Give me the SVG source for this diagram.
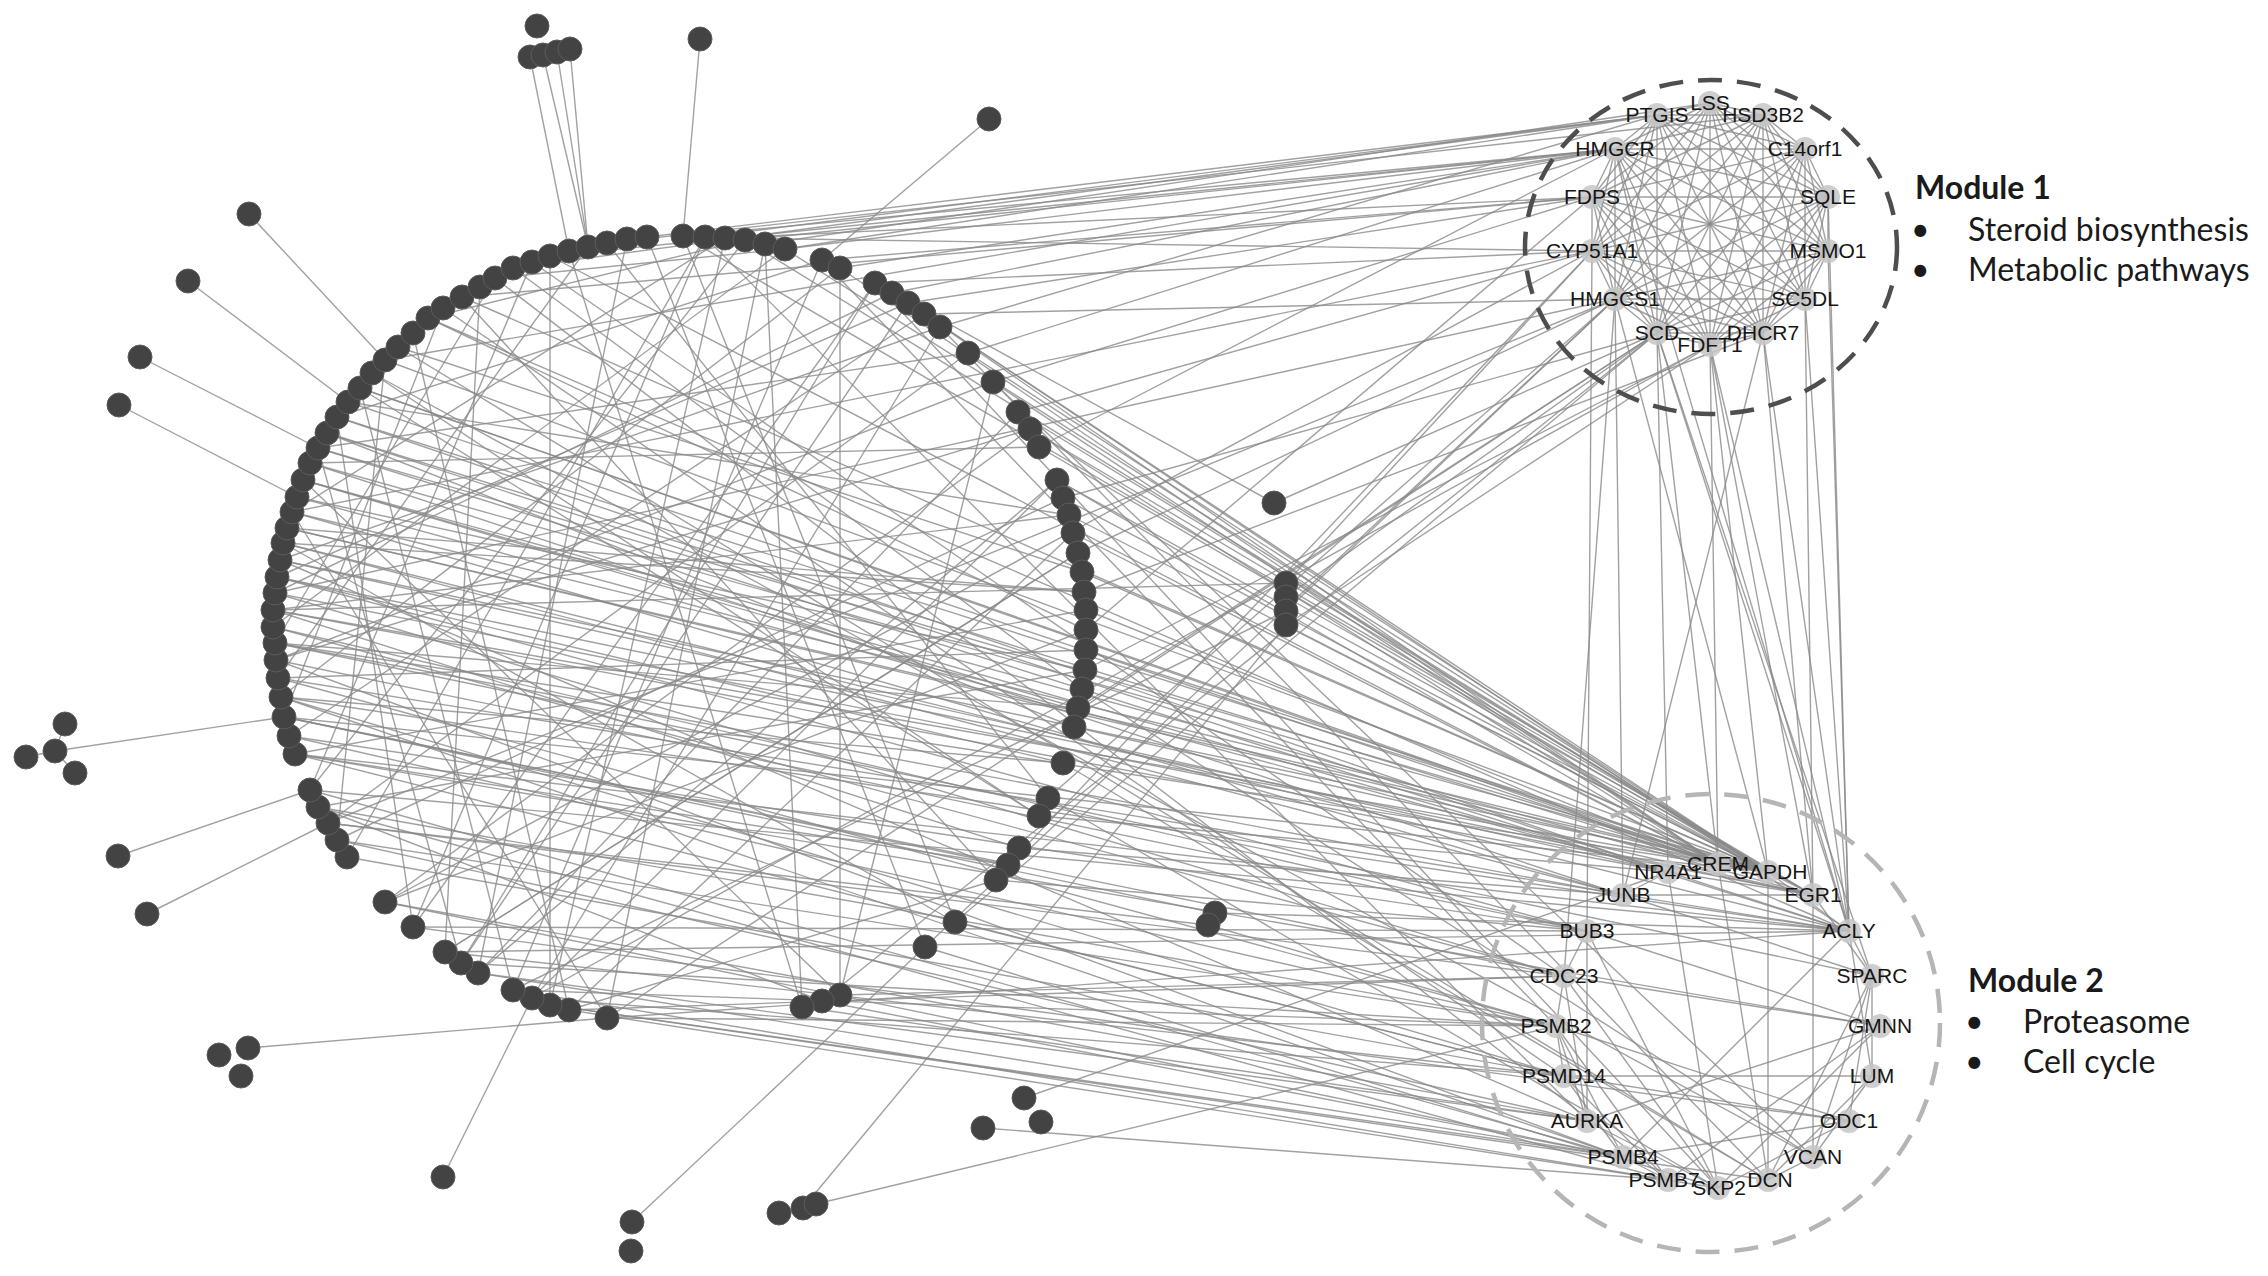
<svg xmlns="http://www.w3.org/2000/svg" width="2268" height="1276" viewBox="0 0 2268 1276">
<style>
.e path{fill:none;stroke:#8a8a8a;stroke-width:1.4;stroke-opacity:.8}
.d{fill:#434343;stroke:#5c5c5c;stroke-width:1}
.m{fill:#c6c6c6;fill-opacity:.85}
.t{font-family:"Liberation Sans",Arial,sans-serif;font-size:21px;fill:#161616;text-anchor:middle}
.h{font-family:Lato,"Liberation Sans",sans-serif;font-size:32px;fill:#1a1a1a}
.hb{font-weight:bold}
.r1{fill:none;stroke:#4e4e4e;stroke-width:4.5;stroke-dasharray:24 15}
.r2{fill:none;stroke:#b5b5b5;stroke-width:4.5;stroke-dasharray:24 15}
</style>
<rect width="2268" height="1276" fill="#fff"/>
<g id="edges" class="e">
<path d="M647 237L1657 115"/><path d="M683 236L1615 149"/><path d="M705 237L1657 115"/><path d="M725 238L1592 197"/><path d="M745 240L1615 149"/><path d="M765 244L1710 103"/><path d="M785 249L1657 115"/><path d="M785 249L1615 149"/><path d="M822 260L1592 197"/><path d="M840 268L1615 149"/><path d="M875 283L1592 251"/><path d="M892 293L1615 149"/><path d="M908 303L1592 197"/><path d="M924 314L1615 299"/><path d="M940 327L1657 115"/><path d="M968 353L1615 149"/><path d="M993 382L1592 197"/><path d="M1018 412L1592 251"/><path d="M1039 447L1615 149"/><path d="M1063 498L1657 333"/><path d="M1078 553L1615 299"/><path d="M1086 630L1592 197"/><path d="M1078 708L1657 333"/><path d="M1048 798L1615 299"/><path d="M1008 865L1592 251"/><path d="M955 922L1657 333"/><path d="M925 947L1615 299"/><path d="M550 256L1615 149"/><path d="M513 268L1657 115"/><path d="M462 297L1592 197"/><path d="M385 360L1615 149"/><path d="M292 512L1592 251"/><path d="M275 593L1615 299"/><path d="M607 1018L1657 333"/><path d="M532 998L1710 345"/><path d="M822 1001L1657 333"/><path d="M385 902L1592 251"/><path d="M328 823L1615 299"/><path d="M725 238L1592 251"/><path d="M607 243L1763 115"/><path d="M1084 592L1763 333"/><path d="M1085 670L1710 345"/>
<path d="M785 249L1768 872"/><path d="M840 268L1718 864"/><path d="M892 293L1768 872"/><path d="M924 314L1718 864"/><path d="M968 353L1768 872"/><path d="M1018 412L1768 872"/><path d="M1030 429L1718 864"/><path d="M1057 480L1768 872"/><path d="M1069 515L1813 895"/><path d="M1073 533L1718 864"/><path d="M1082 572L1768 872"/><path d="M385 360L1768 872"/><path d="M348 402L1718 864"/><path d="M318 448L1768 872"/><path d="M303 480L1813 895"/><path d="M287 528L1718 864"/><path d="M462 297L1768 872"/><path d="M550 256L1718 864"/><path d="M683 236L1813 895"/><path d="M745 240L1768 872"/><path d="M428 318L1849 931"/><path d="M337 417L1668 872"/><path d="M310 463L1623 895"/><path d="M297 497L1668 872"/><path d="M283 543L1623 895"/><path d="M280 560L1768 872"/><path d="M277 577L1587 931"/><path d="M273 610L1668 872"/><path d="M273 627L1564 976"/><path d="M275 643L1623 895"/><path d="M276 660L1587 931"/><path d="M278 678L1556 1026"/><path d="M281 697L1849 931"/><path d="M284 717L1564 976"/><path d="M289 736L1587 931"/><path d="M295 754L1564 1076"/><path d="M310 790L1849 931"/><path d="M318 807L1556 1026"/><path d="M328 823L1564 976"/><path d="M337 840L1587 1121"/><path d="M347 857L1564 1076"/><path d="M385 902L1623 1157"/><path d="M413 927L1587 931"/><path d="M445 952L1849 931"/><path d="M461 963L1556 1026"/><path d="M478 973L1587 1121"/><path d="M513 990L1668 1180"/><path d="M532 998L1564 1076"/><path d="M550 1005L1623 1157"/><path d="M569 1010L1564 976"/><path d="M607 1018L1556 1026"/><path d="M607 1018L1849 931"/><path d="M802 1007L1587 1121"/><path d="M822 1001L1623 1157"/><path d="M840 995L1564 976"/><path d="M925 947L1718 1188"/><path d="M955 922L1564 1076"/><path d="M996 880L1587 931"/><path d="M1019 848L1623 895"/><path d="M1039 816L1668 872"/><path d="M1063 763L1768 1180"/><path d="M1074 727L1813 895"/><path d="M1082 689L1813 1157"/><path d="M1086 650L1768 872"/><path d="M1086 610L1718 864"/><path d="M360 388L1813 895"/><path d="M327 433L1849 931"/><path d="M292 512L1768 872"/><path d="M275 593L1813 895"/><path d="M398 347L1768 1180"/><path d="M372 373L1813 1157"/><path d="M875 283L1718 1188"/><path d="M940 327L1768 1180"/><path d="M993 382L1813 1157"/><path d="M495 278L1668 1180"/><path d="M275 643L1872 976"/><path d="M295 754L1880 1026"/><path d="M413 927L1849 1121"/><path d="M281 697L1623 1157"/><path d="M280 560L1587 1121"/><path d="M1048 798L1718 1188"/><path d="M443 308L1564 1076"/><path d="M532 262L1564 976"/><path d="M705 237L1587 1121"/><path d="M822 260L1556 1026"/><path d="M908 303L1849 931"/>
<path d="M292 512L1623 895"/><path d="M287 528L1768 872"/><path d="M283 543L1849 931"/><path d="M280 560L1668 872"/><path d="M277 577L1813 895"/><path d="M275 593L1564 976"/><path d="M273 610L1768 872"/><path d="M273 627L1587 931"/><path d="M275 643L1768 872"/><path d="M276 660L1623 1157"/><path d="M278 678L1849 931"/><path d="M281 697L1564 1076"/><path d="M284 717L1768 872"/><path d="M289 736L1556 1026"/><path d="M295 754L1849 931"/><path d="M303 480L1668 872"/><path d="M310 463L1768 872"/><path d="M318 448L1849 931"/><path d="M327 433L1718 864"/><path d="M337 417L1768 872"/><path d="M360 388L1718 864"/><path d="M310 790L1623 1157"/><path d="M318 807L1668 1180"/><path d="M337 840L1556 1026"/><path d="M385 902L1587 1121"/><path d="M445 952L1564 1076"/><path d="M478 973L1623 1157"/><path d="M513 990L1556 1026"/><path d="M550 1005L1768 1180"/><path d="M569 1010L1718 1188"/><path d="M1057 480L1718 864"/><path d="M1063 498L1768 872"/><path d="M1039 447L1768 872"/><path d="M993 382L1718 864"/><path d="M1030 429L1813 895"/>
<path d="M647 237L925 947"/><path d="M627 239L478 973"/><path d="M607 243L1048 798"/><path d="M588 247L278 678"/><path d="M569 251L802 1007"/><path d="M550 256L550 1005"/><path d="M532 262L310 790"/><path d="M513 268L1082 689"/><path d="M495 278L275 643"/><path d="M480 287L445 952"/><path d="M462 297L996 880"/><path d="M443 308L284 717"/><path d="M428 318L1086 630"/><path d="M413 333L569 1010"/><path d="M398 347L1082 572"/><path d="M385 360L337 840"/><path d="M372 373L1039 816"/><path d="M360 388L513 990"/><path d="M348 402L1069 515"/><path d="M337 417L413 927"/><path d="M327 433L1074 727"/><path d="M318 448L461 963"/><path d="M310 463L1039 447"/><path d="M303 480L840 995"/><path d="M297 497L1085 670"/><path d="M292 512L607 1018"/><path d="M287 528L1084 592"/><path d="M283 543L955 922"/><path d="M280 560L940 327"/><path d="M277 577L1063 763"/><path d="M275 593L892 293"/><path d="M273 610L1019 848"/><path d="M273 627L785 249"/><path d="M275 643L1078 708"/><path d="M276 660L993 382"/><path d="M278 678L1086 650"/><path d="M281 697L840 268"/><path d="M284 717L1008 865"/><path d="M289 736L924 314"/><path d="M295 754L1086 610"/><path d="M310 790L745 240"/><path d="M318 807L822 1001"/><path d="M328 823L968 353"/><path d="M337 840L1063 498"/><path d="M347 857L705 237"/><path d="M385 902L1030 429"/><path d="M413 927L875 283"/><path d="M445 952L1078 553"/><path d="M461 963L908 303"/><path d="M478 973L1018 412"/><path d="M513 990L822 260"/><path d="M532 998L1057 480"/><path d="M550 1005L725 238"/><path d="M569 1010L1073 533"/><path d="M607 1018L765 244"/><path d="M683 236L955 922"/><path d="M705 237L413 927"/><path d="M725 238L292 512"/><path d="M765 244L802 1007"/><path d="M822 260L337 417"/><path d="M875 283L461 963"/><path d="M908 303L277 577"/><path d="M940 327L532 998"/><path d="M968 353L318 448"/><path d="M993 382L840 995"/><path d="M1030 429L276 660"/><path d="M1057 480L478 973"/><path d="M1069 515L273 610"/><path d="M1078 553L445 952"/><path d="M1084 592L283 543"/><path d="M1086 630L385 902"/><path d="M1085 670L318 807"/><path d="M1078 708L303 480"/><path d="M1063 763L281 697"/><path d="M1039 816L360 388"/><path d="M1008 865L295 754"/><path d="M996 880L569 1010"/><path d="M745 240L428 318"/><path d="M785 249L495 278"/><path d="M840 268L840 995"/>
<path d="M1710 103L1763 115"/><path d="M1710 103L1805 149"/><path d="M1710 103L1828 197"/><path d="M1710 103L1828 251"/><path d="M1710 103L1805 299"/><path d="M1710 103L1763 333"/><path d="M1710 103L1710 345"/><path d="M1710 103L1657 333"/><path d="M1710 103L1615 299"/><path d="M1710 103L1592 251"/><path d="M1710 103L1592 197"/><path d="M1710 103L1615 149"/><path d="M1710 103L1657 115"/>
<path d="M1763 115L1805 149"/><path d="M1763 115L1828 197"/><path d="M1763 115L1828 251"/><path d="M1763 115L1805 299"/><path d="M1763 115L1763 333"/><path d="M1763 115L1710 345"/><path d="M1763 115L1657 333"/><path d="M1763 115L1615 299"/><path d="M1763 115L1592 251"/><path d="M1763 115L1592 197"/><path d="M1763 115L1615 149"/><path d="M1763 115L1657 115"/>
<path d="M1805 149L1828 197"/><path d="M1805 149L1828 251"/><path d="M1805 149L1805 299"/><path d="M1805 149L1763 333"/><path d="M1805 149L1710 345"/><path d="M1805 149L1657 333"/><path d="M1805 149L1615 299"/><path d="M1805 149L1592 251"/><path d="M1805 149L1592 197"/><path d="M1805 149L1615 149"/><path d="M1805 149L1657 115"/>
<path d="M1828 197L1828 251"/><path d="M1828 197L1805 299"/><path d="M1828 197L1763 333"/><path d="M1828 197L1710 345"/><path d="M1828 197L1657 333"/><path d="M1828 197L1615 299"/><path d="M1828 197L1592 251"/><path d="M1828 197L1592 197"/><path d="M1828 197L1615 149"/><path d="M1828 197L1657 115"/>
<path d="M1828 251L1805 299"/><path d="M1828 251L1763 333"/><path d="M1828 251L1710 345"/><path d="M1828 251L1657 333"/><path d="M1828 251L1615 299"/><path d="M1828 251L1592 251"/><path d="M1828 251L1592 197"/><path d="M1828 251L1615 149"/><path d="M1828 251L1657 115"/>
<path d="M1805 299L1763 333"/><path d="M1805 299L1710 345"/><path d="M1805 299L1657 333"/><path d="M1805 299L1615 299"/><path d="M1805 299L1592 251"/><path d="M1805 299L1592 197"/><path d="M1805 299L1615 149"/><path d="M1805 299L1657 115"/>
<path d="M1763 333L1710 345"/><path d="M1763 333L1657 333"/><path d="M1763 333L1615 299"/><path d="M1763 333L1592 251"/><path d="M1763 333L1592 197"/><path d="M1763 333L1615 149"/><path d="M1763 333L1657 115"/>
<path d="M1710 345L1657 333"/><path d="M1710 345L1615 299"/><path d="M1710 345L1592 251"/><path d="M1710 345L1592 197"/><path d="M1710 345L1615 149"/><path d="M1710 345L1657 115"/>
<path d="M1657 333L1615 299"/><path d="M1657 333L1592 251"/><path d="M1657 333L1592 197"/><path d="M1657 333L1615 149"/><path d="M1657 333L1657 115"/>
<path d="M1615 299L1592 251"/><path d="M1615 299L1592 197"/><path d="M1615 299L1615 149"/><path d="M1615 299L1657 115"/>
<path d="M1592 251L1592 197"/><path d="M1592 251L1615 149"/><path d="M1592 251L1657 115"/><path d="M1592 197L1615 149"/><path d="M1592 197L1657 115"/><path d="M1615 149L1657 115"/>
<path d="M1872 976L1813 1157"/><path d="M1872 976L1768 1180"/><path d="M1872 976L1872 1076"/><path d="M1872 1076L1813 1157"/><path d="M1872 1076L1768 1180"/><path d="M1813 1157L1768 1180"/><path d="M1880 1026L1564 976"/><path d="M1880 1026L1587 1121"/><path d="M1880 1026L1587 931"/><path d="M1880 1026L1718 1188"/><path d="M1849 1121L1718 1188"/><path d="M1849 1121L1623 1157"/><path d="M1849 1121L1564 1076"/><path d="M1849 1121L1556 1026"/><path d="M1587 1121L1564 976"/><path d="M1587 1121L1587 931"/><path d="M1587 1121L1718 1188"/><path d="M1587 931L1564 976"/><path d="M1587 931L1718 1188"/><path d="M1564 976L1718 1188"/><path d="M1556 1026L1623 1157"/><path d="M1556 1026L1564 1076"/><path d="M1556 1026L1668 1180"/><path d="M1564 1076L1623 1157"/><path d="M1564 1076L1668 1180"/><path d="M1623 1157L1668 1180"/><path d="M1813 895L1623 895"/><path d="M1813 895L1668 872"/><path d="M1623 895L1668 872"/><path d="M1768 872L1849 931"/><path d="M1768 872L1768 1180"/><path d="M1849 931L1872 976"/><path d="M1872 976L1623 895"/><path d="M1813 895L1872 976"/><path d="M1813 1157L1813 895"/><path d="M1849 931L1872 1076"/><path d="M1718 864L1768 1180"/><path d="M1668 872L1718 1188"/><path d="M1849 931L1623 1157"/><path d="M1872 976L1849 1121"/><path d="M1880 1026L1668 1180"/><path d="M1872 1076L1564 1076"/><path d="M1564 976L1556 1026"/><path d="M1587 1121L1556 1026"/>
<path d="M1828 251L1849 931"/><path d="M1828 197L1849 931"/><path d="M1763 333L1813 895"/><path d="M1710 345L1768 872"/><path d="M1657 333L1668 872"/><path d="M1657 333L1718 864"/><path d="M1615 299L1623 895"/><path d="M1710 345L1849 931"/><path d="M1763 333L1849 931"/><path d="M1805 299L1849 931"/><path d="M1615 299L1768 872"/><path d="M1592 251L1587 931"/><path d="M1657 333L1872 976"/><path d="M1710 345L1718 864"/><path d="M1615 149L1849 931"/><path d="M1805 299L1813 895"/><path d="M1615 299L1564 976"/><path d="M1763 333L1623 895"/><path d="M1710 345L1813 895"/><path d="M1657 333L1849 931"/>
<path d="M1274 503L1657 333"/><path d="M1274 503L875 283"/><path d="M1286 583L1592 251"/><path d="M1286 597L1657 333"/><path d="M1286 611L1615 299"/><path d="M1286 625L1710 345"/><path d="M1286 583L273 610"/><path d="M1286 611L513 990"/><path d="M1286 625L1768 872"/><path d="M1286 597L1813 895"/><path d="M1215 913L1849 931"/><path d="M1215 913L284 717"/><path d="M1208 925L1556 1026"/><path d="M1208 925L328 823"/>
<path d="M530 57L569 251"/><path d="M543 55L588 247"/><path d="M557 52L588 247"/><path d="M570 49L588 247"/><path d="M700 39L683 236"/><path d="M989 119L822 260"/><path d="M249 214L385 360"/><path d="M188 281L348 402"/><path d="M140 357L318 448"/><path d="M119 405L297 497"/><path d="M55 751L284 717"/><path d="M65 724L55 751"/><path d="M26 757L55 751"/><path d="M75 773L55 751"/><path d="M118 856L310 790"/><path d="M147 914L328 823"/><path d="M248 1048L607 1018"/><path d="M443 1177L532 998"/><path d="M632 1222L925 947"/><path d="M803 1208L1286 625"/><path d="M816 1204L1556 1026"/><path d="M1024 1098L1668 872"/><path d="M983 1128L1668 1180"/>
</g>
<g id="module1-ring"><ellipse class="r1" cx="1711" cy="247" rx="186" ry="167"/></g>
<g id="module2-ring"><circle class="r2" cx="1711" cy="1023" r="229"/></g>
<g id="arc-nodes">
<g id="a1"><circle class="d" cx="607" cy="1018" r="12"/></g>
<g id="a2"><circle class="d" cx="569" cy="1010" r="12"/></g>
<g id="a3"><circle class="d" cx="550" cy="1005" r="12"/></g>
<g id="a4"><circle class="d" cx="532" cy="998" r="12"/></g>
<g id="a5"><circle class="d" cx="513" cy="990" r="12"/></g>
<g id="a6"><circle class="d" cx="478" cy="973" r="12"/></g>
<g id="a7"><circle class="d" cx="461" cy="963" r="12"/></g>
<g id="a8"><circle class="d" cx="445" cy="952" r="12"/></g>
<g id="a9"><circle class="d" cx="413" cy="927" r="12"/></g>
<g id="a10"><circle class="d" cx="385" cy="902" r="12"/></g>
<g id="a11"><circle class="d" cx="347" cy="857" r="12"/></g>
<g id="a12"><circle class="d" cx="337" cy="840" r="12"/></g>
<g id="a13"><circle class="d" cx="328" cy="823" r="12"/></g>
<g id="a14"><circle class="d" cx="318" cy="807" r="12"/></g>
<g id="a15"><circle class="d" cx="310" cy="790" r="12"/></g>
<g id="a16"><circle class="d" cx="295" cy="754" r="12"/></g>
<g id="a17"><circle class="d" cx="289" cy="736" r="12"/></g>
<g id="a18"><circle class="d" cx="284" cy="717" r="12"/></g>
<g id="a19"><circle class="d" cx="281" cy="697" r="12"/></g>
<g id="a20"><circle class="d" cx="278" cy="678" r="12"/></g>
<g id="a21"><circle class="d" cx="276" cy="660" r="12"/></g>
<g id="a22"><circle class="d" cx="275" cy="643" r="12"/></g>
<g id="a23"><circle class="d" cx="273" cy="627" r="12"/></g>
<g id="a24"><circle class="d" cx="273" cy="610" r="12"/></g>
<g id="a25"><circle class="d" cx="275" cy="593" r="12"/></g>
<g id="a26"><circle class="d" cx="277" cy="577" r="12"/></g>
<g id="a27"><circle class="d" cx="280" cy="560" r="12"/></g>
<g id="a28"><circle class="d" cx="283" cy="543" r="12"/></g>
<g id="a29"><circle class="d" cx="287" cy="528" r="12"/></g>
<g id="a30"><circle class="d" cx="292" cy="512" r="12"/></g>
<g id="a31"><circle class="d" cx="297" cy="497" r="12"/></g>
<g id="a32"><circle class="d" cx="303" cy="480" r="12"/></g>
<g id="a33"><circle class="d" cx="310" cy="463" r="12"/></g>
<g id="a34"><circle class="d" cx="318" cy="448" r="12"/></g>
<g id="a35"><circle class="d" cx="327" cy="433" r="12"/></g>
<g id="a36"><circle class="d" cx="337" cy="417" r="12"/></g>
<g id="a37"><circle class="d" cx="348" cy="402" r="12"/></g>
<g id="a38"><circle class="d" cx="360" cy="388" r="12"/></g>
<g id="a39"><circle class="d" cx="372" cy="373" r="12"/></g>
<g id="a40"><circle class="d" cx="385" cy="360" r="12"/></g>
<g id="a41"><circle class="d" cx="398" cy="347" r="12"/></g>
<g id="a42"><circle class="d" cx="413" cy="333" r="12"/></g>
<g id="a43"><circle class="d" cx="428" cy="318" r="12"/></g>
<g id="a44"><circle class="d" cx="443" cy="308" r="12"/></g>
<g id="a45"><circle class="d" cx="462" cy="297" r="12"/></g>
<g id="a46"><circle class="d" cx="480" cy="287" r="12"/></g>
<g id="a47"><circle class="d" cx="495" cy="278" r="12"/></g>
<g id="a48"><circle class="d" cx="513" cy="268" r="12"/></g>
<g id="a49"><circle class="d" cx="532" cy="262" r="12"/></g>
<g id="a50"><circle class="d" cx="550" cy="256" r="12"/></g>
<g id="a51"><circle class="d" cx="569" cy="251" r="12"/></g>
<g id="a52"><circle class="d" cx="588" cy="247" r="12"/></g>
<g id="a53"><circle class="d" cx="607" cy="243" r="12"/></g>
<g id="a54"><circle class="d" cx="627" cy="239" r="12"/></g>
<g id="a55"><circle class="d" cx="647" cy="237" r="12"/></g>
<g id="a56"><circle class="d" cx="683" cy="236" r="12"/></g>
<g id="a57"><circle class="d" cx="705" cy="237" r="12"/></g>
<g id="a58"><circle class="d" cx="725" cy="238" r="12"/></g>
<g id="a59"><circle class="d" cx="745" cy="240" r="12"/></g>
<g id="a60"><circle class="d" cx="765" cy="244" r="12"/></g>
<g id="a61"><circle class="d" cx="785" cy="249" r="12"/></g>
<g id="a62"><circle class="d" cx="822" cy="260" r="12"/></g>
<g id="a63"><circle class="d" cx="840" cy="268" r="12"/></g>
<g id="a64"><circle class="d" cx="875" cy="283" r="12"/></g>
<g id="a65"><circle class="d" cx="892" cy="293" r="12"/></g>
<g id="a66"><circle class="d" cx="908" cy="303" r="12"/></g>
<g id="a67"><circle class="d" cx="924" cy="314" r="12"/></g>
<g id="a68"><circle class="d" cx="940" cy="327" r="12"/></g>
<g id="a69"><circle class="d" cx="968" cy="353" r="12"/></g>
<g id="a70"><circle class="d" cx="993" cy="382" r="12"/></g>
<g id="a71"><circle class="d" cx="1018" cy="412" r="12"/></g>
<g id="a72"><circle class="d" cx="1030" cy="429" r="12"/></g>
<g id="a73"><circle class="d" cx="1039" cy="447" r="12"/></g>
<g id="a74"><circle class="d" cx="1057" cy="480" r="12"/></g>
<g id="a75"><circle class="d" cx="1063" cy="498" r="12"/></g>
<g id="a76"><circle class="d" cx="1069" cy="515" r="12"/></g>
<g id="a77"><circle class="d" cx="1073" cy="533" r="12"/></g>
<g id="a78"><circle class="d" cx="1078" cy="553" r="12"/></g>
<g id="a79"><circle class="d" cx="1082" cy="572" r="12"/></g>
<g id="a80"><circle class="d" cx="1084" cy="592" r="12"/></g>
<g id="a81"><circle class="d" cx="1086" cy="610" r="12"/></g>
<g id="a82"><circle class="d" cx="1086" cy="630" r="12"/></g>
<g id="a83"><circle class="d" cx="1086" cy="650" r="12"/></g>
<g id="a84"><circle class="d" cx="1085" cy="670" r="12"/></g>
<g id="a85"><circle class="d" cx="1082" cy="689" r="12"/></g>
<g id="a86"><circle class="d" cx="1078" cy="708" r="12"/></g>
<g id="a87"><circle class="d" cx="1074" cy="727" r="12"/></g>
<g id="a88"><circle class="d" cx="1063" cy="763" r="12"/></g>
<g id="a89"><circle class="d" cx="1048" cy="798" r="12"/></g>
<g id="a90"><circle class="d" cx="1039" cy="816" r="12"/></g>
<g id="a91"><circle class="d" cx="1019" cy="848" r="12"/></g>
<g id="a92"><circle class="d" cx="1008" cy="865" r="12"/></g>
<g id="a93"><circle class="d" cx="996" cy="880" r="12"/></g>
<g id="a94"><circle class="d" cx="955" cy="922" r="12"/></g>
<g id="a95"><circle class="d" cx="925" cy="947" r="12"/></g>
<g id="a96"><circle class="d" cx="840" cy="995" r="12"/></g>
<g id="a97"><circle class="d" cx="822" cy="1001" r="12"/></g>
<g id="a98"><circle class="d" cx="802" cy="1007" r="12"/></g>
</g>
<g id="outer-nodes">
<g id="p1"><circle class="d" cx="537" cy="26" r="12"/></g>
<g id="p2"><circle class="d" cx="530" cy="57" r="12"/></g>
<g id="p3"><circle class="d" cx="543" cy="55" r="12"/></g>
<g id="p4"><circle class="d" cx="557" cy="52" r="12"/></g>
<g id="p5"><circle class="d" cx="570" cy="49" r="12"/></g>
<g id="p6"><circle class="d" cx="700" cy="39" r="12"/></g>
<g id="p7"><circle class="d" cx="989" cy="119" r="12"/></g>
<g id="p8"><circle class="d" cx="249" cy="214" r="12"/></g>
<g id="p9"><circle class="d" cx="188" cy="281" r="12"/></g>
<g id="p10"><circle class="d" cx="140" cy="357" r="12"/></g>
<g id="p11"><circle class="d" cx="119" cy="405" r="12"/></g>
<g id="p12"><circle class="d" cx="65" cy="724" r="12"/></g>
<g id="p13"><circle class="d" cx="55" cy="751" r="12"/></g>
<g id="p14"><circle class="d" cx="26" cy="757" r="12"/></g>
<g id="p15"><circle class="d" cx="75" cy="773" r="12"/></g>
<g id="p16"><circle class="d" cx="118" cy="856" r="12"/></g>
<g id="p17"><circle class="d" cx="147" cy="914" r="12"/></g>
<g id="p18"><circle class="d" cx="219" cy="1055" r="12"/></g>
<g id="p19"><circle class="d" cx="248" cy="1048" r="12"/></g>
<g id="p20"><circle class="d" cx="241" cy="1076" r="12"/></g>
<g id="p21"><circle class="d" cx="443" cy="1177" r="12"/></g>
<g id="p22"><circle class="d" cx="632" cy="1222" r="12"/></g>
<g id="p23"><circle class="d" cx="631" cy="1251" r="12"/></g>
<g id="p24"><circle class="d" cx="779" cy="1213" r="12"/></g>
<g id="p25"><circle class="d" cx="803" cy="1208" r="12"/></g>
<g id="p26"><circle class="d" cx="816" cy="1204" r="12"/></g>
<g id="p27"><circle class="d" cx="1024" cy="1098" r="12"/></g>
<g id="p28"><circle class="d" cx="1041" cy="1122" r="12"/></g>
<g id="p29"><circle class="d" cx="983" cy="1128" r="12"/></g>
<g id="p30"><circle class="d" cx="1274" cy="503" r="12"/></g>
<g id="p31"><circle class="d" cx="1286" cy="583" r="12"/></g>
<g id="p32"><circle class="d" cx="1286" cy="597" r="12"/></g>
<g id="p33"><circle class="d" cx="1286" cy="611" r="12"/></g>
<g id="p34"><circle class="d" cx="1286" cy="625" r="12"/></g>
<g id="p35"><circle class="d" cx="1215" cy="913" r="12"/></g>
<g id="p36"><circle class="d" cx="1208" cy="925" r="12"/></g>
</g>
<g id="module1">
<g id="LSS"><circle class="m" cx="1710" cy="103" r="12"/><text class="t" x="1710" y="110">LSS</text></g>
<g id="PTGIS"><circle class="m" cx="1657" cy="115" r="12"/><text class="t" x="1657" y="122">PTGIS</text></g>
<g id="HSD3B2"><circle class="m" cx="1763" cy="115" r="12"/><text class="t" x="1763" y="122">HSD3B2</text></g>
<g id="HMGCR"><circle class="m" cx="1615" cy="149" r="12"/><text class="t" x="1615" y="156">HMGCR</text></g>
<g id="C14orf1"><circle class="m" cx="1805" cy="149" r="12"/><text class="t" x="1805" y="156">C14orf1</text></g>
<g id="FDPS"><circle class="m" cx="1592" cy="197" r="12"/><text class="t" x="1592" y="204">FDPS</text></g>
<g id="SQLE"><circle class="m" cx="1828" cy="197" r="12"/><text class="t" x="1828" y="204">SQLE</text></g>
<g id="CYP51A1"><circle class="m" cx="1592" cy="251" r="12"/><text class="t" x="1592" y="258">CYP51A1</text></g>
<g id="MSMO1"><circle class="m" cx="1828" cy="251" r="12"/><text class="t" x="1828" y="258">MSMO1</text></g>
<g id="HMGCS1"><circle class="m" cx="1615" cy="299" r="12"/><text class="t" x="1615" y="306">HMGCS1</text></g>
<g id="SC5DL"><circle class="m" cx="1805" cy="299" r="12"/><text class="t" x="1805" y="306">SC5DL</text></g>
<g id="SCD"><circle class="m" cx="1657" cy="333" r="12"/><text class="t" x="1657" y="340">SCD</text></g>
<g id="DHCR7"><circle class="m" cx="1763" cy="333" r="12"/><text class="t" x="1763" y="340">DHCR7</text></g>
<g id="FDFT1"><circle class="m" cx="1710" cy="345" r="12"/><text class="t" x="1710" y="352">FDFT1</text></g>
</g>
<g id="module2">
<g id="CREM"><circle class="m" cx="1718" cy="864" r="12"/><text class="t" x="1718" y="871">CREM</text></g>
<g id="NR4A1"><circle class="m" cx="1668" cy="872" r="12"/><text class="t" x="1668" y="879">NR4A1</text></g>
<g id="GAPDH"><circle class="m" cx="1768" cy="872" r="12"/><text class="t" x="1770" y="879">GAPDH</text></g>
<g id="JUNB"><circle class="m" cx="1623" cy="895" r="12"/><text class="t" x="1623" y="902">JUNB</text></g>
<g id="EGR1"><circle class="m" cx="1813" cy="895" r="12"/><text class="t" x="1813" y="902">EGR1</text></g>
<g id="BUB3"><circle class="m" cx="1587" cy="931" r="12"/><text class="t" x="1587" y="938">BUB3</text></g>
<g id="ACLY"><circle class="m" cx="1849" cy="931" r="12"/><text class="t" x="1849" y="938">ACLY</text></g>
<g id="CDC23"><circle class="m" cx="1564" cy="976" r="12"/><text class="t" x="1564" y="983">CDC23</text></g>
<g id="SPARC"><circle class="m" cx="1872" cy="976" r="12"/><text class="t" x="1872" y="983">SPARC</text></g>
<g id="PSMB2"><circle class="m" cx="1556" cy="1026" r="12"/><text class="t" x="1556" y="1033">PSMB2</text></g>
<g id="GMNN"><circle class="m" cx="1880" cy="1026" r="12"/><text class="t" x="1880" y="1033">GMNN</text></g>
<g id="PSMD14"><circle class="m" cx="1564" cy="1076" r="12"/><text class="t" x="1564" y="1083">PSMD14</text></g>
<g id="LUM"><circle class="m" cx="1872" cy="1076" r="12"/><text class="t" x="1872" y="1083">LUM</text></g>
<g id="AURKA"><circle class="m" cx="1587" cy="1121" r="12"/><text class="t" x="1587" y="1128">AURKA</text></g>
<g id="ODC1"><circle class="m" cx="1849" cy="1121" r="12"/><text class="t" x="1849" y="1128">ODC1</text></g>
<g id="PSMB4"><circle class="m" cx="1623" cy="1157" r="12"/><text class="t" x="1623" y="1164">PSMB4</text></g>
<g id="VCAN"><circle class="m" cx="1813" cy="1157" r="12"/><text class="t" x="1813" y="1164">VCAN</text></g>
<g id="PSMB7"><circle class="m" cx="1668" cy="1180" r="12"/><text class="t" x="1664" y="1187">PSMB7</text></g>
<g id="DCN"><circle class="m" cx="1768" cy="1180" r="12"/><text class="t" x="1770" y="1187">DCN</text></g>
<g id="SKP2"><circle class="m" cx="1718" cy="1188" r="12"/><text class="t" x="1719" y="1195">SKP2</text></g>
</g>
<g id="legend1">
<text class="h hb" x="1915" y="199">Module 1</text>
<text class="h" x="1911" y="241">•</text><text class="h" x="1968" y="241">Steroid biosynthesis</text>
<text class="h" x="1911" y="281">•</text><text class="h" x="1968" y="281">Metabolic pathways</text>
</g>
<g id="legend2">
<text class="h hb" x="1968" y="992">Module 2</text>
<text class="h" x="1965" y="1033">•</text><text class="h" x="2023" y="1033">Proteasome</text>
<text class="h" x="1965" y="1073">•</text><text class="h" x="2023" y="1073">Cell cycle</text>
</g>
</svg>
